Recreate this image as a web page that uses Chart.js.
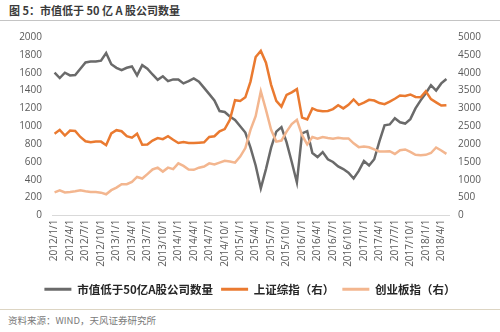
<!DOCTYPE html>
<html>
<head>
<meta charset="utf-8">
<script src="https://cdn.jsdelivr.net/npm/chart.js@4.4.1/dist/chart.umd.min.js"></script>
<style>
  body { margin: 0; width: 500px; height: 332px; background: #fff; overflow: hidden; font-family: "Noto Sans CJK SC", sans-serif; }
  #title { position: absolute; left: 9px; top: 2px; font-size: 11px; font-weight: bold; color: #3a3a3a; white-space: nowrap; }
  #topline { position: absolute; left: 0; top: 20px; width: 500px; height: 1px; background: #c4c4c4; }
  #wrap { position: absolute; left: 0; top: 21px; width: 500px; height: 288px; }
  #botline { position: absolute; left: 0; top: 309px; width: 500px; height: 1px; background: #ddd5c3; }
  #source { position: absolute; left: 8px; top: 313px; font-size: 9.5px; color: #7a7a7a; white-space: nowrap; }
</style>
</head>
<body>
<div id="title">图 5：市值低于 50 亿 A 股公司数量</div>
<div id="topline"></div>
<div id="wrap"><canvas id="chart" width="500" height="288"></canvas></div>
<div id="botline"></div>
<div id="source">资料来源：WIND，天风证券研究所</div>
<script>
// monthly categories, a tick label shown every 3rd month
const months = [
  "2012/1/1","2012/2/1","2012/3/1","2012/4/1","2012/5/1","2012/6/1","2012/7/1","2012/8/1","2012/9/1","2012/10/1","2012/11/1","2012/12/1",
  "2013/1/1","2013/2/1","2013/3/1","2013/4/1","2013/5/1","2013/6/1","2013/7/1","2013/8/1","2013/9/1","2013/10/1","2013/11/1","2013/12/1",
  "2014/1/1","2014/2/1","2014/3/1","2014/4/1","2014/5/1","2014/6/1","2014/7/1","2014/8/1","2014/9/1","2014/10/1","2014/11/1","2014/12/1",
  "2015/1/1","2015/2/1","2015/3/1","2015/4/1","2015/5/1","2015/6/1","2015/7/1","2015/8/1","2015/9/1","2015/10/1","2015/11/1","2015/12/1",
  "2016/1/1","2016/2/1","2016/3/1","2016/4/1","2016/5/1","2016/6/1","2016/7/1","2016/8/1","2016/9/1","2016/10/1","2016/11/1","2016/12/1",
  "2017/1/1","2017/2/1","2017/3/1","2017/4/1","2017/5/1","2017/6/1","2017/7/1","2017/8/1","2017/9/1","2017/10/1","2017/11/1","2017/12/1",
  "2018/1/1","2018/2/1","2018/3/1","2018/4/1","2018/5/1"
];

// 市值低于50亿A股公司数量 (left axis)
const smallCaps = [
  1600,1540,1600,1570,1575,1645,1715,1725,1725,1735,1820,1695,
  1655,1630,1655,1670,1570,1685,1645,1580,1520,1560,1505,1525,
  1525,1480,1505,1535,1500,1430,1360,1290,1170,1160,1110,1070,
  1000,930,760,560,305,520,760,940,990,820,600,370,
  920,945,700,655,710,630,600,550,520,480,415,500,
  610,560,630,830,1010,1020,1090,1045,1030,1080,1200,1290,
  1370,1460,1400,1480,1530
];

// 上证综指 (right axis)
const sse = [
  2290,2400,2240,2380,2370,2200,2080,2050,2070,2070,1970,2300,
  2390,2360,2220,2180,2290,1980,1990,2100,2170,2140,2220,2120,
  2030,2060,2030,2030,2040,2050,2200,2220,2360,2420,2680,3230,
  3210,3310,3750,4440,4610,4280,3660,3210,3050,3380,3450,3540,
  2740,2690,3000,2940,2920,2930,2980,3090,3000,3100,3250,3100,
  3160,3240,3220,3150,3120,3190,3270,3360,3350,3390,3320,3310,
  3480,3260,3170,3080,3090
];

// 创业板指 (right axis)
const chinext = [
  650,705,645,660,680,705,680,660,660,640,595,710,
  780,875,875,940,1080,1035,1160,1290,1340,1230,1340,1300,
  1460,1390,1290,1280,1340,1370,1460,1430,1480,1530,1510,1480,
  1650,1890,2400,2780,3480,2960,2400,2070,2100,2350,2560,2680,
  2250,1990,2200,2150,2200,2170,2150,2175,2160,2160,2020,1915,
  1930,1910,1850,1790,1790,1800,1725,1830,1850,1780,1700,1690,
  1700,1750,1905,1820,1725
];

const seriesNames = ["市值低于50亿A股公司数量", "上证综指（右）", "创业板指（右）"];
const seriesColors = ["#6a6a6a", "#ea7a30", "#f3b68f"];

const tickFont = { family: "'Open Sans', sans-serif", size: 10 };
const tickColor = "#595959";

function lineSet(label, data, color, axis, order) {
  return {
    label: label,
    data: data,
    yAxisID: axis,
    borderColor: color,
    backgroundColor: color,
    borderWidth: 2.5,
    pointRadius: 0,
    tension: 0,
    order: order
  };
}

function plainNumber(value) {
  return String(value);
}

new Chart(document.getElementById("chart").getContext("2d"), {
  type: "line",
  data: {
    labels: months,
    datasets: [
      lineSet(seriesNames[0], smallCaps, seriesColors[0], "y", 3),
      lineSet(seriesNames[1], sse, seriesColors[1], "y1", 2),
      lineSet(seriesNames[2], chinext, seriesColors[2], "y1", 1)
    ]
  },
  options: {
    responsive: false,
    animation: false,
    layout: { padding: { top: 15, bottom: 4, left: 0, right: 0 } },
    plugins: {
      tooltip: { enabled: false },
      legend: {
        position: "bottom",
        labels: {
          boxWidth: 27,
          boxHeight: 3,
          padding: 8,
          color: "#262626",
          font: { family: "'Noto Sans CJK SC', sans-serif", size: 11.5, weight: "bold" },
          sort: function (a, b) { return a.datasetIndex - b.datasetIndex; },
          generateLabels: function (chart) {
            return Chart.defaults.plugins.legend.labels.generateLabels(chart).map(function (item) {
              item.lineWidth = 0;
              item.strokeStyle = item.fillStyle;
              return item;
            });
          }
        }
      }
    },
    scales: {
      x: {
        offset: true,
        grid: { display: false, drawTicks: false },
        border: { display: true, color: "#d9d9d9", width: 1 },
        ticks: {
          autoSkip: false,
          minRotation: 90,
          maxRotation: 90,
          padding: 4,
          color: tickColor,
          font: tickFont,
          callback: function (value, index) {
            return index % 3 === 0 ? months[index] : "";
          }
        },
        afterFit: function (scale) { scale.height = 60; }
      },
      y: {
        position: "left",
        min: 0,
        max: 2000,
        grid: { display: false, drawTicks: false },
        border: { display: false },
        ticks: { stepSize: 200, padding: 10, color: tickColor, font: tickFont, callback: plainNumber },
        afterFit: function (scale) { scale.width = 52; }
      },
      y1: {
        position: "right",
        min: 0,
        max: 5000,
        grid: { display: false, drawTicks: false },
        border: { display: false },
        ticks: { stepSize: 500, padding: 9, color: tickColor, font: tickFont, callback: plainNumber },
        afterFit: function (scale) { scale.width = 51; }
      }
    }
  }
});
</script>
</body>
</html>
